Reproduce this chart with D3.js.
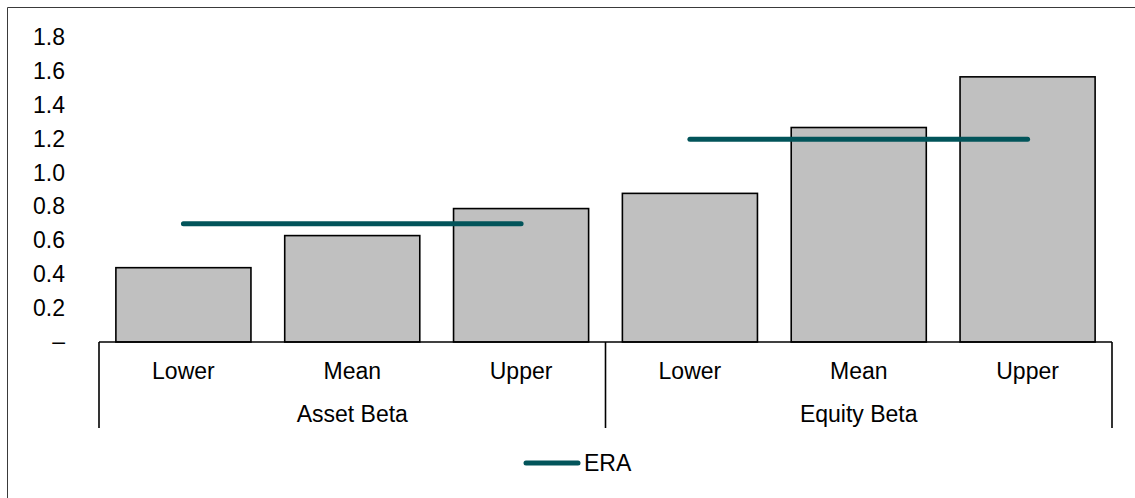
<!DOCTYPE html>
<html>
<head>
<meta charset="utf-8">
<script src="https://cdn.jsdelivr.net/npm/d3@7"></script>
<style>
  html, body { margin: 0; padding: 0; background: #fff; }
  svg { display: block; font-family: Arial, "Liberation Sans", sans-serif; }
</style>
</head>
<body>
<svg id="chart" width="1135" height="498"></svg>
<script>
// Beta ranges by estimate type, with the regulator's (ERA) value for each group
const groups = ["Asset Beta", "Equity Beta"];
const subCategories = ["Lower", "Mean", "Upper"];
const betaValues = [0.44, 0.63, 0.79, 0.88, 1.27, 1.57];
const eraValues = [0.70, 1.20];
const yTicks = [0, 0.2, 0.4, 0.6, 0.8, 1.0, 1.2, 1.4, 1.6, 1.8];
const seriesName = "ERA";

const svg = d3.select("#chart");
const W = 1135, H = 498;
const plot = { left: 99, right: 1112, top: 38, bottom: 342 };
const barFill = "#c0c0c0";
const eraColor = "#02545a";
const fontSize = 23;

// Chart frame (left and top edges visible)
svg.append("path")
  .attr("d", `M7.5,${H} V7.5 H${W}`)
  .attr("fill", "none")
  .attr("stroke", "#3a3a3a")
  .attr("stroke-width", 1);

// flat list of category slots, one per bar
const slots = [];
groups.forEach((g, gi) => subCategories.forEach((s, si) => slots.push({ key: g + "|" + s, group: g, gi, sub: s, value: betaValues[gi * subCategories.length + si] })));

const x = d3.scaleBand()
  .domain(slots.map(d => d.key))
  .range([plot.left, plot.right])
  .paddingInner(0.2)
  .paddingOuter(0.1);

const y = d3.scaleLinear().domain([0, 1.8]).range([plot.bottom, plot.top]);

// Y axis labels (no axis line)
const yAxis = d3.axisLeft(y)
  .tickValues(yTicks)
  .tickSize(0)
  .tickPadding(0)
  .tickFormat(v => v === 0 ? "\u2013" : d3.format(".1f")(v));

const yg = svg.append("g")
  .attr("transform", "translate(65,0)")
  .call(yAxis);
yg.select(".domain").remove();
yg.selectAll("text")
  .attr("font-size", fontSize)
  .attr("font-family", "Arial, 'Liberation Sans', sans-serif")
  .attr("fill", "#000")
  .attr("dy", "0.3em");

// Bars
svg.append("g").selectAll("rect")
  .data(slots)
  .join("rect")
  .attr("x", d => x(d.key))
  .attr("y", d => y(d.value))
  .attr("width", x.bandwidth())
  .attr("height", d => y(0) - y(d.value))
  .attr("fill", barFill)
  .attr("stroke", "#000")
  .attr("stroke-width", 1.6);

// Category axis: baseline plus group separators
const step = x.step();
const groupEdges = d3.range(groups.length + 1).map(i => plot.left + i * subCategories.length * step);
const axisG = svg.append("g").attr("stroke", "#000").attr("stroke-width", 1.6);
axisG.append("line")
  .attr("x1", plot.left).attr("x2", plot.right)
  .attr("y1", y(0)).attr("y2", y(0));
axisG.selectAll("line.sep")
  .data(groupEdges)
  .join("line")
  .attr("class", "sep")
  .attr("x1", d => d).attr("x2", d => d)
  .attr("y1", y(0)).attr("y2", 428);

// Sub-category labels
svg.append("g").selectAll("text")
  .data(slots)
  .join("text")
  .attr("x", d => x(d.key) + x.bandwidth() / 2)
  .attr("y", 379)
  .attr("text-anchor", "middle")
  .attr("font-size", fontSize)
  .text(d => d.sub);

// Group labels
svg.append("g").selectAll("text")
  .data(groups)
  .join("text")
  .attr("x", (d, i) => (groupEdges[i] + groupEdges[i + 1]) / 2)
  .attr("y", 422)
  .attr("text-anchor", "middle")
  .attr("font-size", fontSize)
  .text(d => d);

// ERA reference lines spanning each group's Lower to Upper bar centres
const eraLine = d3.line().x(d => d[0]).y(d => d[1]);
svg.append("g").selectAll("path")
  .data(groups.map((g, gi) => {
    const first = x(g + "|" + subCategories[0]) + x.bandwidth() / 2;
    const last = x(g + "|" + subCategories[subCategories.length - 1]) + x.bandwidth() / 2;
    return [[first, y(eraValues[gi])], [last, y(eraValues[gi])]];
  }))
  .join("path")
  .attr("d", eraLine)
  .attr("fill", "none")
  .attr("stroke", eraColor)
  .attr("stroke-width", 5)
  .attr("stroke-linecap", "round");

// Legend
const legend = svg.append("g").attr("transform", "translate(0,463)");
legend.append("line")
  .attr("x1", 526).attr("x2", 578)
  .attr("y1", 0).attr("y2", 0)
  .attr("stroke", eraColor)
  .attr("stroke-width", 5)
  .attr("stroke-linecap", "round");
legend.append("text")
  .attr("x", 584)
  .attr("y", 0)
  .attr("dy", "0.35em")
  .attr("font-size", fontSize)
  .text(seriesName);
</script>
</body>
</html>
